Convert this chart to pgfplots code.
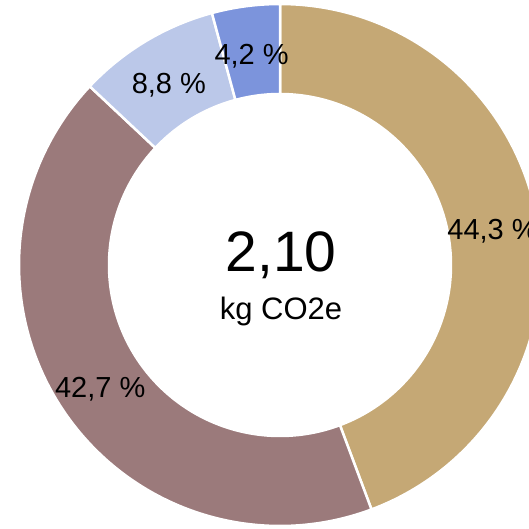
\documentclass[border=0pt]{standalone}
\usepackage{pgfplots}
\pgfplotsset{compat=1.18}
\usepackage{fontspec}
\setmainfont{Liberation Sans}
\definecolor{cTan}{RGB}{197,168,117}
\definecolor{cMauve}{RGB}{155,122,123}
\definecolor{cLight}{RGB}{187,200,233}
\definecolor{cBlue}{RGB}{124,148,220}
% #1 cumulative start (%), #2 value (%), #3 colour, #4 label
\newcommand{\seg}[4]{%
  \addplot[fill=#3, draw=white, line width=2.5pt, line join=miter,
    domain=0:2, samples=241, variable=\t]
    ({((\t<1.015) ? 261 : 171)*cos( (\t<=1) ? (90-3.6*#1 - 3.6*#2*\t) : (90-3.6*(#1+#2) + 3.6*#2*max(\t-1.02,0)/0.98) )},
     {((\t<1.015) ? 261 : 171)*sin( (\t<=1) ? (90-3.6*#1 - 3.6*#2*\t) : (90-3.6*(#1+#2) + 3.6*#2*max(\t-1.02,0)/0.98) )}) -- cycle;
  \node[font=\fontsize{29}{32}\selectfont, text=black, yshift=-5pt] at (axis cs:{216*cos(90-3.6*(#1+#2/2))},{216*sin(90-3.6*(#1+#2/2))}) {#4};
}
\begin{document}
\begin{tikzpicture}
\begin{axis}[
  scale only axis, width=529pt, height=528pt,
  xmin=-280, xmax=249, ymin=-263, ymax=265,
  hide axis, clip=true,
]
\path (rel axis cs:0,0) rectangle (rel axis cs:1,1);
\seg{0}{44.3}{cTan}{44,3 \%}
\seg{44.3}{42.7}{cMauve}{42,7 \%}
\seg{87.0}{8.8}{cLight}{8,8 \%}
\seg{95.8}{4.2}{cBlue}{4,2 \%}
\node[font=\fontsize{57}{60}\selectfont] at (axis cs:1,10) {2,10};
\node[font=\fontsize{31}{34}\selectfont] at (axis cs:1,-46) {kg CO2e};
\end{axis}
\end{tikzpicture}
\end{document}
